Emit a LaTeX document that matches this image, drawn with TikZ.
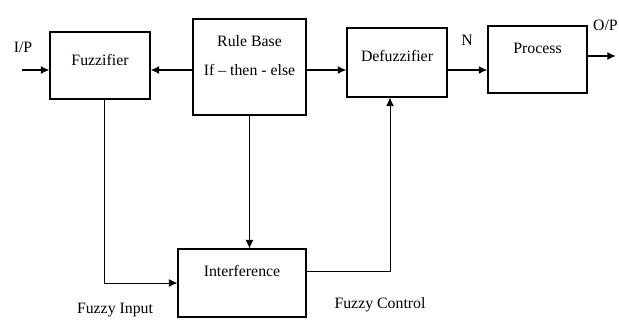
\documentclass[tikz,border=0pt]{standalone}
\usepackage{fontspec}
\setmainfont{Liberation Serif}
\usetikzlibrary{arrows.meta,positioning}
\tikzset{>={Latex[length=2.6mm,width=2.4mm]}}
\colorlet{penColor}{black}
\tikzset{
  block/.style={draw=penColor,line width=0.9pt,minimum width=3cm,minimum height=2.01cm,inner sep=0pt,align=center},
  lift/.style={text depth=#1},
  flow/.style={->,line width=1.3pt,penColor},
  link/.style={line width=0.8pt,penColor}
}

\begin{document}
\begin{tikzpicture}[x=0.03cm,y=-0.03cm,every node/.style={font=\fontsize{13.5}{25}\selectfont}]
      \useasboundingbox (0,0) rectangle (619,322);
      % blocks
      \node[block,lift=9pt] (fuzz) at (100,65.5) {Fuzzifier};
      \node[block,lift=20pt,minimum width=3.39cm,minimum height=2.88cm] (rule) at (249.5,67) {Rule Base\\If -- then - else};
      \node[block,lift=10.5pt,minimum height=2.07cm] (defuz) at (397,62.5) {Defuzzifier};
      \node[block,lift=19pt,minimum width=2.97cm] (proc) at (537.5,59.5) {Process};
      \node[block,lift=20pt,minimum width=3.84cm,minimum height=2.04cm] (inter) at (242,283) {Interference};
      % ends of the lines
      \coordinate (row) at (0,70);
      \coordinate (in) at (22,70);
      \coordinate (out) at (616,56);
      \coordinate (fdown) at (104,0);
      \coordinate (cup) at (390,271);
      % arrows
      \draw[flow] (in) -- (fuzz.west |- row);
      \draw[flow] (rule.west |- row) -- (fuzz.east |- row);
      \draw[flow] (rule.east |- row) -- (defuz.west |- row);
      \draw[flow] (defuz.east |- row) -- (proc.west |- row);
      \draw[flow] (proc.east |- out) -- (out);
      \draw[link,->] (fuzz.south -| fdown) |- (inter.west);
      \draw[link,->] (rule.south) -- (rule.south |- inter.north);
      \draw[link,->] (inter.east |- cup) -| (defuz.south -| cup);
      % labels
      \node (ip) at (23,47) {I/P};
      \node (n) at (467,40) {N};
      \node[anchor=east,inner sep=0pt] (op) at (618,25) {O/P};
      \node (fin) at (115,310) {Fuzzy Input};
      \node (fctl) at (380,305) {Fuzzy Control};
    \end{tikzpicture}
\end{document}
